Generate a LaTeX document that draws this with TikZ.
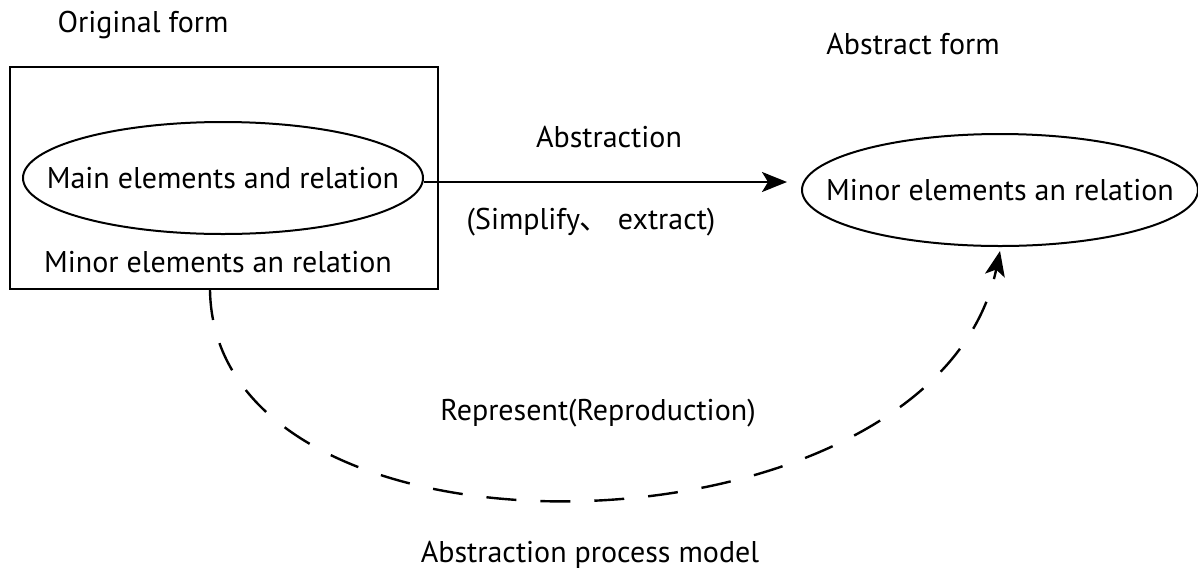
\documentclass[tikz,border=0pt]{standalone}
\usepackage{fontspec}
\setmainfont{PT Sans}
\newfontfamily\cjk{Noto Sans CJK SC}
\usetikzlibrary{arrows.meta,shapes.geometric}
\begin{document}
\begin{tikzpicture}[x=0.5pt,y=-0.5pt,
  lbl/.style={inner sep=0pt,font=\fontsize{15}{18}\selectfont},
  frame/.style={draw,line width=1.2pt,minimum width=214pt,minimum height=111pt,inner sep=0pt},
  oval/.style={draw,ellipse,line width=1pt,minimum width=200pt,minimum height=56pt,inner sep=0pt,font=\fontsize{15}{18}\selectfont},
  flow/.style={line width=1.1pt,-{Stealth[length=12.5pt,width=10pt,inset=3pt]}},
  back/.style={line width=1.2pt,dash pattern=on 15pt off 12pt,-{Stealth[length=12.5pt,width=10pt,inset=3pt]}}]
\useasboundingbox (0,0) rectangle (1198,579);
\node[frame] (box) at (224,178) {};
\node[oval] (main) at (223,178) {\makebox[0pt]{Main elements and relation}};
\node[lbl] (minorin) at (218,262) {Minor elements an relation};
\node[lbl] (orig) at (143,25) {Original form};
\node[oval,minimum width=198pt] (abs) at (1000,190) {\makebox[0pt]{Minor elements an relation}};
\node[lbl] (absform) at (913,44) {Abstract form};
\node[lbl] (abstraction) at (609,137) {Abstraction};
\node[lbl] (simp) at (591,222) {(Simplify{\cjk 、} extract)};
\node[lbl] (rep) at (598,413) {Represent(Reproduction)};
\node[lbl] (model) at (590,555) {Abstraction process model};
\draw[flow] (main.east |- 0,182) -- (787,182);
\coordinate (s) at ([xshift=-7pt]box.south);
\coordinate (e) at ([yshift=-2pt]abs.south);
\draw[back] (s) .. controls (215,585) and (935,565) .. (e);
\end{tikzpicture}
\end{document}
